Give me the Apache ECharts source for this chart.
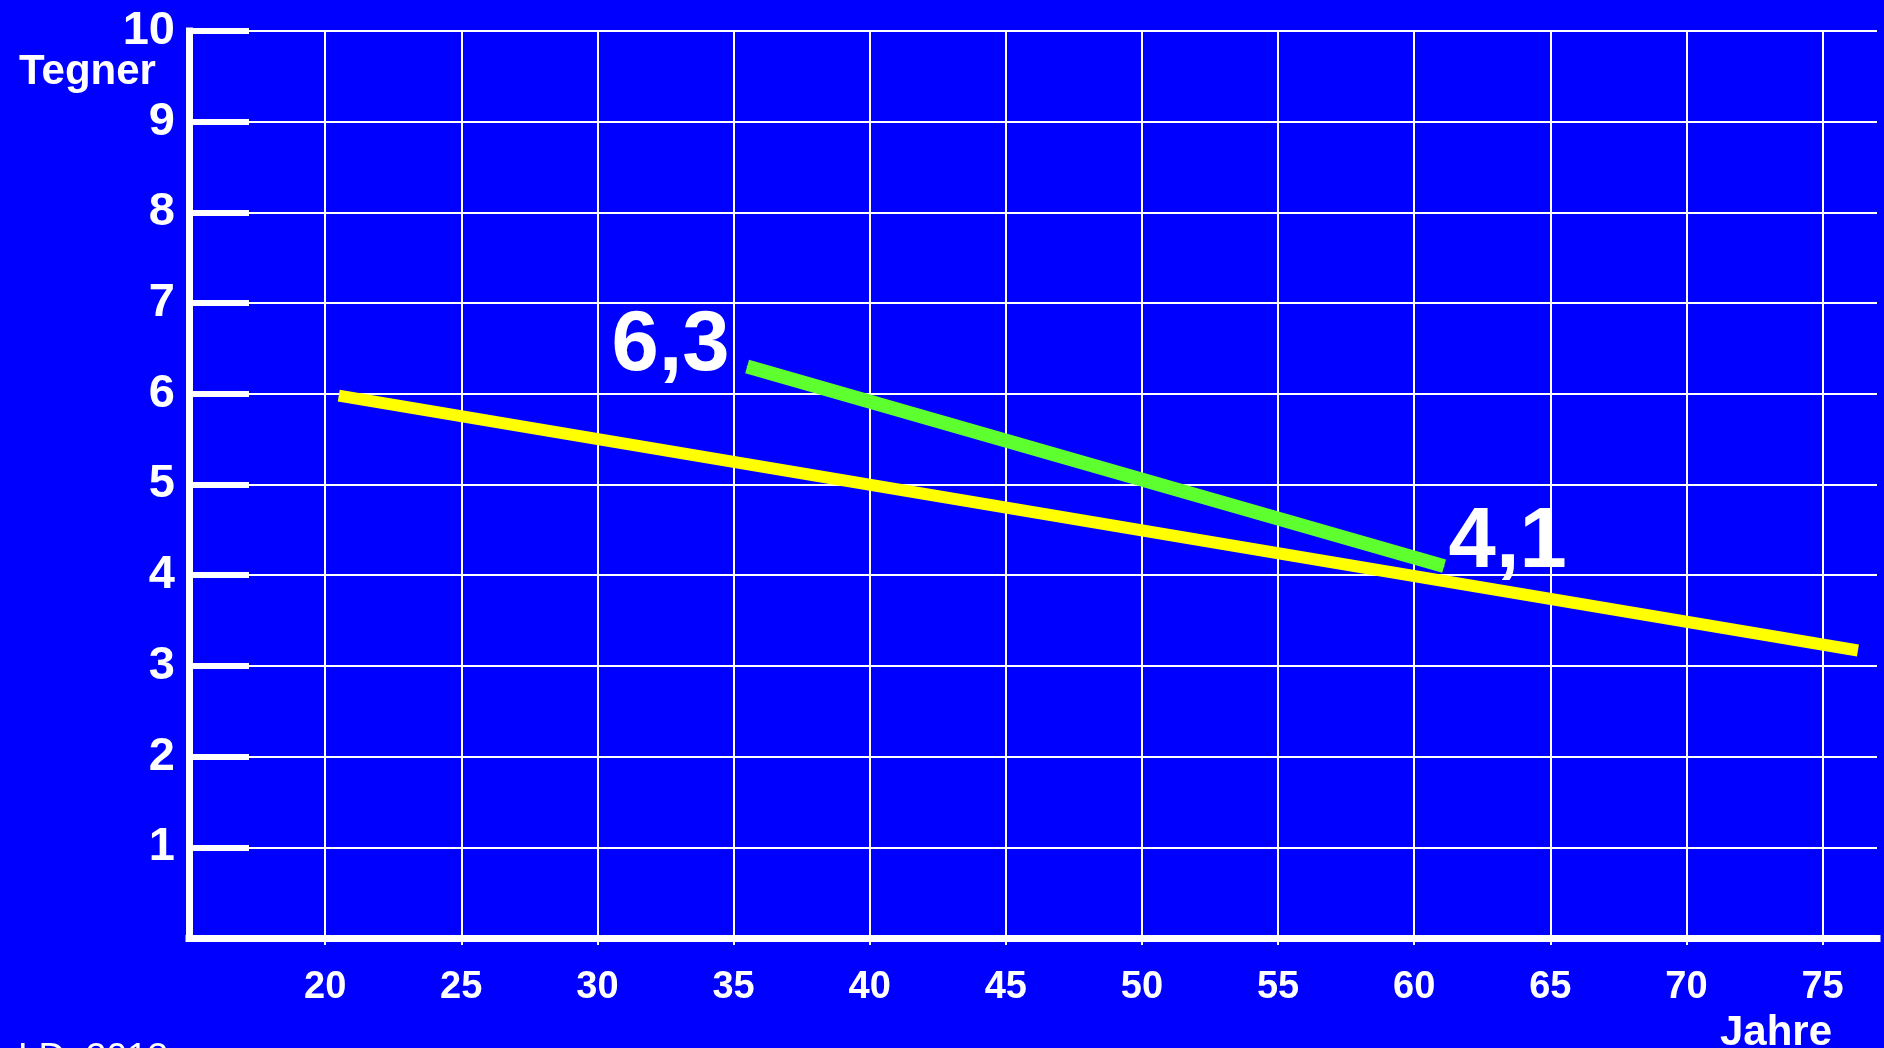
<!DOCTYPE html>
<html>
<head>
<meta charset="utf-8">
<title>Tegner</title>
<script src="https://cdn.jsdelivr.net/npm/echarts@6/dist/echarts.min.js"></script>
<style>
  html, body { margin: 0; padding: 0; background: #0000ff; }
  #chart { width: 1884px; height: 1048px; }
</style>
</head>
<body>
<div id="chart"></div>
<script>
// Age axis (Jahre) tick labels and Tegner axis tick labels
const xTickLabels = [20, 25, 30, 35, 40, 45, 50, 55, 60, 65, 70, 75];
const yTickLabels = [1, 2, 3, 4, 5, 6, 7, 8, 9, 10];

// Yellow line: Tegner score against age
const yellowAges = [20.5, 76.3];
const yellowValues = [5.98, 3.17];

// Green line: with its start and end values labelled
const greenAges = [35.5, 61.1];
const greenValues = [6.3, 4.1];

const FONT = "'Liberation Sans', Arial, Helvetica, sans-serif";
const WHITE = '#ffffff';

function pairs(xs, ys) {
  return xs.map((x, i) => [x, ys[i]]);
}

const fmtComma = p => p.value[1].toFixed(1).replace('.', ',');

const greenData = pairs(greenAges, greenValues);
greenData[0] = {
  value: greenData[0],
  label: { show: true, position: 'left', distance: 17, offset: [0, -20] }
};
greenData[1] = {
  value: greenData[1],
  label: { show: true, position: 'right', distance: 4, offset: [0, -23] }
};

const chart = echarts.init(document.getElementById('chart'), null, { renderer: 'canvas' });

chart.setOption({
  backgroundColor: '#0000ff',
  animation: false,
  grid: { left: 189, right: 7, top: 31, bottom: 110, containLabel: false },
  xAxis: {
    type: 'value',
    min: 15,
    max: 77,
    interval: 5,
    axisLine: { show: true, onZero: false, lineStyle: { color: WHITE, width: 7, cap: 'square' } },
    axisTick: { show: true, length: 7, lineStyle: { color: WHITE, width: 2 } },
    axisLabel: {
      color: WHITE,
      fontFamily: FONT,
      fontWeight: 'bold',
      fontSize: 38,
      margin: 31,
      showMinLabel: false,
      showMaxLabel: false,
      formatter: v => (xTickLabels.indexOf(v) >= 0 ? String(v) : '')
    },
    splitLine: {
      show: true,
      showMinLine: false,
      showMaxLine: false,
      lineStyle: { color: WHITE, width: 2 }
    }
  },
  yAxis: {
    type: 'value',
    min: 0,
    max: 10,
    interval: 1,
    axisLine: { show: true, onZero: false, lineStyle: { color: WHITE, width: 7, cap: 'square' } },
    axisTick: { show: true, inside: true, length: 60, lineStyle: { color: WHITE, width: 6 } },
    axisLabel: {
      color: WHITE,
      fontFamily: FONT,
      fontWeight: 'bold',
      fontSize: 47,
      margin: 14,
      formatter: v => (yTickLabels.indexOf(v) >= 0 ? String(v) : '')
    },
    splitLine: {
      show: true,
      showMinLine: false,
      lineStyle: { color: WHITE, width: 2 }
    }
  },
  series: [
    {
      name: 'gelb',
      type: 'line',
      data: pairs(yellowAges, yellowValues),
      symbol: 'none',
      lineStyle: { color: '#ffff00', width: 12, cap: 'butt' },
      z: 3
    },
    {
      name: 'grün',
      type: 'line',
      data: greenData,
      symbol: 'circle',
      symbolSize: 1,
      itemStyle: { color: '#5eff2e' },
      lineStyle: { color: '#5eff2e', width: 14, cap: 'butt' },
      label: {
        color: WHITE,
        fontFamily: FONT,
        fontWeight: 'bold',
        fontSize: 85,
        formatter: fmtComma
      },
      z: 4
    }
  ],
  graphic: [
    {
      type: 'text',
      left: 19,
      top: 51,
      style: { text: 'Tegner', fill: WHITE, font: "bold 42px 'Liberation Sans', Arial, sans-serif" }
    },
    {
      type: 'text',
      left: 1720,
      top: 1012,
      style: { text: 'Jahre', fill: WHITE, font: "bold 42px 'Liberation Sans', Arial, sans-serif" }
    },
    {
      type: 'text',
      left: 18,
      top: 1040,
      style: { text: 'LD. 2013', fill: WHITE, font: "37px 'Liberation Sans', Arial, sans-serif" }
    }
  ]
});
</script>
</body>
</html>
